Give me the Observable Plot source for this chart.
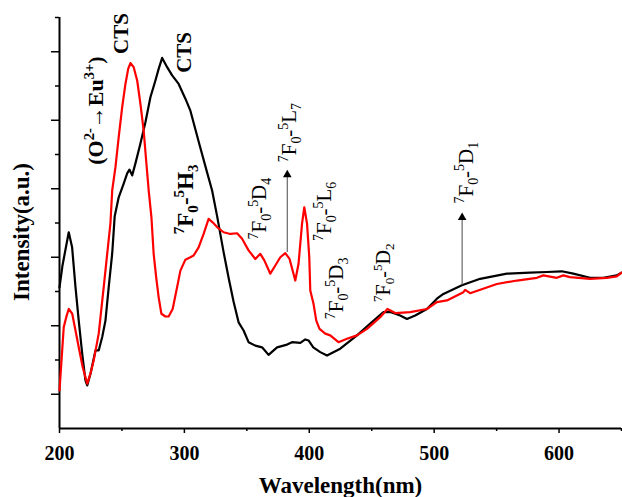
<!DOCTYPE html>
<html>
<head>
<meta charset="utf-8">
<script src="https://cdn.jsdelivr.net/npm/d3@7"></script>
<script src="https://cdn.jsdelivr.net/npm/@observablehq/plot@0.6"></script>
<style>
  html, body { margin: 0; padding: 0; background: #fff; }
  #chart svg { display: block; }
</style>
</head>
<body>
<div id="chart"></div>
<script>
// Black spectrum (wavelength nm, intensity a.u.)
const blackWavelength = [200, 202.4, 207.4, 210.1, 212.8, 215.4, 218.2, 220.8, 222.2, 224.8, 228.8, 231.4, 234.2, 236.8, 239.4, 242.2, 244.2, 247.4, 251.4, 254.2, 256, 258.2, 260.8, 264.8, 268.8, 272.8, 276.8, 279.4, 282.2, 286.2, 290.2, 295.4, 300.8, 304.8, 312, 318, 322.2, 326.2, 331.4, 335.4, 339.4, 343.4, 347.4, 351.4, 356.8, 362.2, 367.4, 374.2, 382.2, 386.2, 392.8, 396.8, 399.4, 403.2, 408.8, 414.2, 424.8, 438.2, 448.8, 459.4, 464.8, 472.8, 478.2, 484.8, 494.2, 502.2, 507.4, 522.2, 536.8, 558.2, 576.8, 590.2, 602.2, 611.4, 624.8, 635.4, 646.2, 650];
const blackIntensity = [4.12, 4.76, 5.73, 5.29, 4.13, 3.15, 2.18, 1.40, 1.26, 1.60, 2.28, 2.28, 2.67, 3.15, 4.13, 5.11, 6.2, 6.75, 7.15, 7.45, 7.56, 7.39, 7.74, 8.32, 8.94, 9.67, 10.16, 10.50, 10.82, 10.55, 10.31, 10.06, 9.63, 9.28, 8.3, 7.5, 6.95, 6.20, 5.15, 4.40, 3.70, 3.10, 2.86, 2.52, 2.42, 2.37, 2.15, 2.37, 2.45, 2.52, 2.50, 2.60, 2.57, 2.37, 2.23, 2.13, 2.33, 2.72, 3.06, 3.40, 3.40, 3.30, 3.20, 3.30, 3.49, 3.79, 3.93, 4.18, 4.37, 4.52, 4.55, 4.57, 4.59, 4.52, 4.40, 4.40, 4.47, 4.55];

// Red spectrum
const redWavelength = [200, 203.4, 205.4, 207.4, 210.2, 212.8, 215.4, 218.6, 222.2, 224.8, 227.4, 231.4, 235.4, 238.2, 240.8, 242.2, 244.8, 247.4, 250.2, 252.8, 255, 256.8, 259.4, 262.2, 264.8, 267.4, 269.6, 271.4, 273.6, 275.4, 277.4, 279.4, 281.6, 284.8, 287.4, 290.6, 294.2, 296.8, 300.8, 304.8, 307.4, 311.4, 315.4, 319.4, 322.6, 326.2, 331.4, 336.8, 342.2, 346.2, 351.4, 356.8, 360.8, 364, 368.8, 372.8, 376.8, 380.8, 384.2, 388.8, 391.4, 394.2, 396, 398.2, 400, 400.8, 403.4, 405.6, 408.2, 412.8, 416.8, 423.4, 430.2, 438.2, 446.2, 456.8, 462.6, 468.8, 480.8, 494.2, 502.2, 510.2, 523.4, 524.8, 528.8, 550.2, 566.2, 582.2, 587.4, 598.2, 603.4, 608.8, 624.8, 638.2, 646.2, 650];
const redIntensity = [1.11, 2.96, 3.25, 3.49, 3.35, 2.86, 2.37, 1.79, 1.31, 1.60, 1.99, 2.77, 4.13, 5.10, 6.0, 6.95, 7.63, 8.51, 9.38, 10.06, 10.50, 10.67, 10.55, 10.16, 9.48, 8.70, 7.73, 6.95, 6.17, 5.10, 4.42, 3.83, 3.35, 3.27, 3.27, 3.49, 4.13, 4.61, 4.93, 5.00, 5.05, 5.29, 5.68, 6.12, 6.02, 5.88, 5.73, 5.68, 5.70, 5.54, 5.20, 4.95, 5.10, 4.91, 4.52, 4.76, 5.00, 5.12, 4.95, 4.32, 4.81, 5.98, 6.46, 5.98, 5.00, 4.03, 3.64, 3.15, 2.91, 2.77, 2.72, 2.52, 2.62, 2.72, 2.91, 3.25, 3.49, 3.37, 3.40, 3.49, 3.69, 3.74, 3.98, 4.05, 3.95, 4.22, 4.32, 4.40, 4.47, 4.40, 4.47, 4.42, 4.37, 4.40, 4.44, 4.55];

// Axis ticks
const xMajorTicks = [200, 300, 400, 500, 600];
const xMinorTicks = [250, 350, 450, 550, 650];
const yMajorTicks = [1, 3, 5, 7, 9, 11];
const yMinorTicks = [2, 4, 6, 8, 10, 12];

// Annotations (wavelength, intensity, text, bold, font size)
const annoText = ["CTS", "(O²⁻→Eu³⁺)", "CTS", "⁷F₀-⁵H₃", "⁷F₀-⁵D₄", "⁷F₀-⁵L₇", "⁷F₀-⁵L₆", "⁷F₀-⁵D₃", "⁷F₀-⁵D₂", "⁷F₀-⁵D₁"];
const annoX = [249.6, 228.8, 300, 300.8, 360, 384, 412, 421.6, 459.2, 525.6];
const annoY = [11.53, 9.28, 10.98, 6.69, 6.42, 8.64, 6.34, 4.09, 4.55, 7.47];
const annoBold = [true, true, true, true, false, false, false, false, false, false];
const annoSize = [21, 22, 21, 23, 21, 21, 21, 21, 20, 21];

// Arrows (wavelength, from intensity, to intensity)
const arrowX = [382.4, 522.4];
const arrowFrom = [5.14, 4.18];
const arrowTo = [7.47, 6.22];

const black = blackWavelength.map((x, i) => ({x, y: blackIntensity[i]}));
const red = redWavelength.map((x, i) => ({x, y: redIntensity[i]}));
const annos = annoText.map((t, i) => ({t, x: annoX[i], y: annoY[i], bold: annoBold[i], size: annoSize[i]}));
const arrows = arrowX.map((x, i) => ({x, y1: arrowFrom[i], y2: arrowTo[i]}));

const font = "'Liberation Serif', 'Times New Roman', serif";

const chart = Plot.plot({
  width: 622,
  height: 497,
  marginLeft: 59,
  marginRight: 1,
  marginTop: 17,
  marginBottom: 69,
  style: {fontFamily: font, background: "#fff", color: "#000"},
  x: {domain: [200, 650], axis: null},
  y: {domain: [0, 12], axis: null},
  marks: [
    Plot.axisX({ticks: xMajorTicks, tickSize: 5, tickPadding: 12, fontSize: 20, fontWeight: "bold", tickFormat: d => String(d), label: null, strokeWidth: 1.5}),
    Plot.axisX({ticks: xMinorTicks, tickSize: 3, tickFormat: () => "", label: null, strokeWidth: 1.5}),
    Plot.axisY({ticks: yMajorTicks, tickSize: 8, tickFormat: () => "", label: null, strokeWidth: 1.5}),
    Plot.axisY({ticks: yMinorTicks, tickSize: 4, tickFormat: () => "", label: null, strokeWidth: 1.5}),
    Plot.ruleX([200], {stroke: "#000", strokeWidth: 2}),
    Plot.ruleY([0], {stroke: "#000", strokeWidth: 2}),
    Plot.line(black, {x: "x", y: "y", stroke: "#000", strokeWidth: 2.2}),
    Plot.line(red, {x: "x", y: "y", stroke: "#f00", strokeWidth: 2.2}),
    Plot.ruleX(arrows, {x: "x", y1: "y1", y2: "y2", stroke: "#666", strokeWidth: 1.2}),
    Plot.dot(arrows, {x: "x", y: "y2", symbol: "triangle", r: 3.2, fill: "#000", stroke: "none", dy: 2}),
    Plot.text(annos.filter(d => d.bold), {x: "x", y: "y", text: "t", rotate: -90, fontSize: "size", fontWeight: "bold", fill: "#000", className: "anno"}),
    Plot.text(annos.filter(d => !d.bold), {x: "x", y: "y", text: "t", rotate: -90, fontSize: "size", fill: "#000", className: "anno"}),
    Plot.text(["Wavelength(nm)"], {frameAnchor: "bottom", dy: 64, fontSize: 23, fontWeight: "bold", fill: "#000"}),
    Plot.text(["Intensity(a.u.)"], {frameAnchor: "left", textAnchor: "middle", dx: -38, dy: 9, rotate: -90, fontSize: 23, fontWeight: "bold", fill: "#000"})
  ]
});
document.getElementById("chart").appendChild(chart);

// Render super/subscripts as shifted, smaller tspans
const supMap = {"⁰":"0","¹":"1","²":"2","³":"3","⁴":"4","⁵":"5","⁶":"6","⁷":"7","⁸":"8","⁹":"9","⁺":"+","⁻":"-"};
const subMap = {"₀":"0","₁":"1","₂":"2","₃":"3","₄":"4","₅":"5","₆":"6","₇":"7","₈":"8","₉":"9"};
d3.select(chart).selectAll("g.anno text").each(function() {
  const el = d3.select(this);
  const size = parseFloat(el.attr("font-size")) || 21;
  const str = el.text();
  const runs = [];
  for (const ch of str) {
    const type = supMap[ch] ? "sup" : subMap[ch] ? "sub" : "n";
    const c = supMap[ch] || subMap[ch] || ch;
    if (runs.length && runs[runs.length - 1].type === type) runs[runs.length - 1].s += c;
    else runs.push({type, s: c});
  }
  el.text(null);
  let cur = 0;
  for (const r of runs) {
    const target = r.type === "sup" ? -0.40 * size : r.type === "sub" ? 0.24 * size : 0;
    const t = el.append("tspan").attr("dy", target - cur).text(r.s);
    if (r.type !== "n") t.attr("font-size", 0.66 * size);
    cur = target;
  }
});
</script>
</body>
</html>
